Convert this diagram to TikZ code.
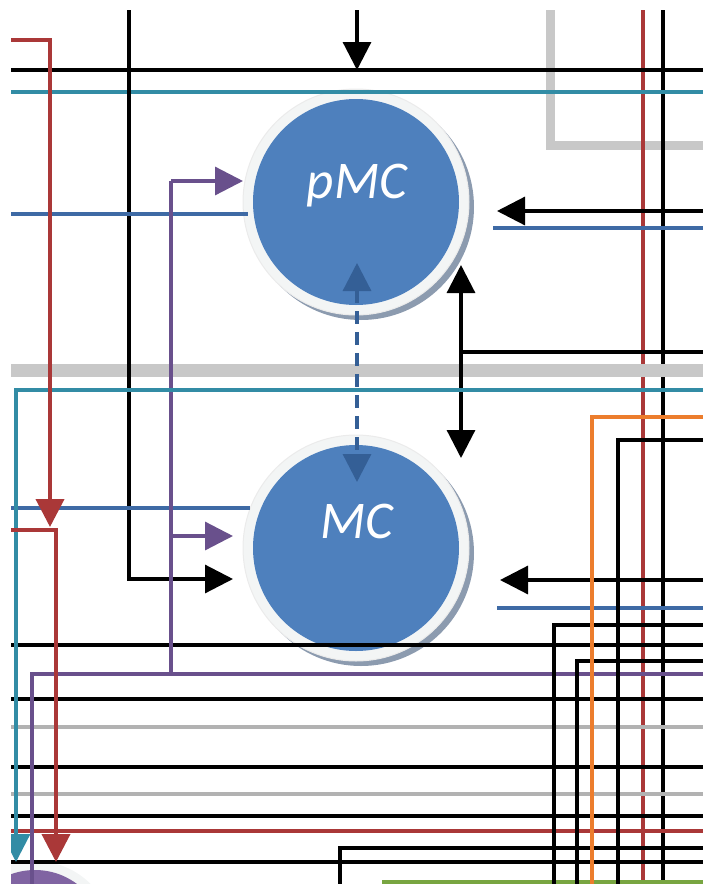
\documentclass[tikz,border=0pt]{standalone}
\usepackage{fontspec}
\setmainfont{Carlito}
\usetikzlibrary{arrows.meta}
\definecolor{cred}{RGB}{170,56,56}
\definecolor{cteal}{RGB}{50,140,165}
\definecolor{cblue}{RGB}{62,106,165}
\definecolor{cpurple}{RGB}{105,80,140}
\definecolor{corange}{RGB}{236,125,45}
\definecolor{cgreen}{RGB}{120,165,65}
\definecolor{cgray}{RGB}{200,200,200}
\definecolor{cgrayl}{RGB}{178,178,178}
\definecolor{cfill}{RGB}{78,128,189}
\definecolor{cdash}{RGB}{52,95,150}
\definecolor{chalo}{RGB}{243,245,245}
\definecolor{cshadow}{RGB}{140,155,175}
\definecolor{cpfill}{RGB}{128,100,162}
\begin{document}
\begin{tikzpicture}[x=1pt,y=-1pt,
  bk/.style={black,line width=3.2pt},
  rd/.style={cred,line width=4pt},
  tl/.style={cteal,line width=3.3pt},
  bl/.style={cblue,line width=3.3pt},
  pu/.style={cpurple,line width=3.3pt},
  og/.style={corange,line width=4pt},
  gn/.style={cgreen,line width=4pt},
  gyl/.style={cgrayl,line width=3.8pt},
  gyt/.style={cgray,line width=9pt},
  gyb/.style={cgray,line width=13pt},
  tip/.style={-{Triangle[length=28pt,width=28pt]}},
  dtip/.style={{Triangle[length=28pt,width=28pt]}-{Triangle[length=28pt,width=28pt]}},
  cell/.style={circle,fill=cfill,minimum size=206pt,inner sep=0pt},
  halo/.style={circle,fill=chalo,draw=black!8,line width=1pt,minimum size=226pt,inner sep=0pt},
  shadow/.style={circle,fill=cshadow,minimum size=226pt,inner sep=0pt},
  lbl/.style={text=white,font=\fontsize{53}{53}\selectfont\itshape,anchor=base,inner sep=0pt}
]
\useasboundingbox (0,0) rectangle (703,884);
\begin{scope}
\clip (11,10) rectangle (703,884);
% gray L at top right
\draw[gyt] (550,5) -- (550,145) -- (710,145);
% right verticals under the band
\draw[rd] (643,5) -- (643,890);
\draw[bk] (663,5) -- (663,890);
% gray band
\draw[gyb] (5,370) -- (710,370);
% circles: halos and shadows
\node[shadow] (pmcs) at (361,207) {};
\node[halo] (pmch) at (356,202) {};
\node[cell] (pmc) at (356,202) {};
\node[shadow] (mcs) at (361,553) {};
\node[halo] (mch) at (356,548) {};
\node[cell] (mc) at (356,548) {};
\node[circle,fill=chalo,minimum size=158pt] (pch) at (35,940) {};
\node[circle,fill=cpfill,minimum size=140pt,inner sep=0pt] (pc) at (35,940) {};
\node[lbl] (pmcl) at (357,198) {pMC};
\node[lbl] (mcl) at (357,538) {MC};
% full width horizontals
\draw[bk] (5,70) -- (710,70);
\draw[tl] (5,92) -- (710,92);
\draw[bk] (5,645) -- (710,645);
\draw[bk] (5,699) -- (710,699);
\draw[gyl] (5,727) -- (710,727);
\draw[bk] (5,767) -- (710,767);
\draw[gyl] (5,794) -- (710,794);
\draw[bk] (5,816) -- (710,816);
\draw[rd] (5,831) -- (710,831);
\draw[bk] (5,862) -- (710,862);
\draw[gn] (382,882) -- (710,882);
% top arrow
\coordinate (ta0) at (357,5);
\coordinate (ta1) at (357,70);
\draw[bk,tip] (ta0) -- (ta1);
% left black into MC
\coordinate (lb0) at (129,5);
\coordinate (lb1) at (233,579);
\draw[bk,tip] (lb0) |- (lb1);
% blue left stubs
\coordinate (bl1) at (248,214);
\coordinate (bl2) at (250,508);
\draw[bl] (5,214) -- (bl1);
\draw[bl] (5,508) -- (bl2);
% right arrows
\coordinate (ra1) at (497,211);
\coordinate (ra2) at (500,580);
\draw[bk,tip] (710,211) -- (ra1);
\draw[bk,tip] (710,580) -- (ra2);
\coordinate (rb1) at (493,228);
\coordinate (rb2) at (497,608);
\draw[bl] (rb1) -- (710,228);
\draw[bl] (rb2) -- (710,608);
% double arrow between cells
\coordinate (da0) at (461,265);
\coordinate (da1) at (461,458);
\draw[bk,dtip] (da0) -- (da1);
\draw[bk] (461,352) -- (710,352);
% dashed blue arrow
\coordinate (db0) at (357,263);
\coordinate (db1) at (357,482);
\draw[cdash,line width=3.3pt,dash pattern=on 13pt off 8pt,dtip] (db0) -- (db1);
% purple
\coordinate (pa1) at (243,181);
\coordinate (pa2) at (233,536);
\draw[pu] (171,181) -- (171,674);
\draw[pu,tip] (171,181) -- (pa1);
\draw[pu,tip] (171,536) -- (pa2);
\draw[pu] (710,674) -- (32,674) -- (32,890);
% right bottom verticals
\draw[bk] (710,440) -- (618,440) -- (618,890);
\draw[bk] (710,625) -- (554,625) -- (554,890);
\draw[bk] (710,661) -- (577,661) -- (577,890);
\draw[bk] (710,848) -- (340,848) -- (340,890);
\draw[og] (710,417) -- (592,417) -- (592,890);
% teal L with arrow
\coordinate (tt) at (16,862);
\draw[tl,tip] (710,390) -- (16,390) -- (tt);
% red lines with arrows
\coordinate (r1) at (50,527);
\coordinate (r2) at (56,862);
\draw[rd,tip] (5,40) -- (50,40) -- (r1);
\draw[rd,tip] (5,530) -- (56,530) -- (r2);
\end{scope}
\end{tikzpicture}
\end{document}
